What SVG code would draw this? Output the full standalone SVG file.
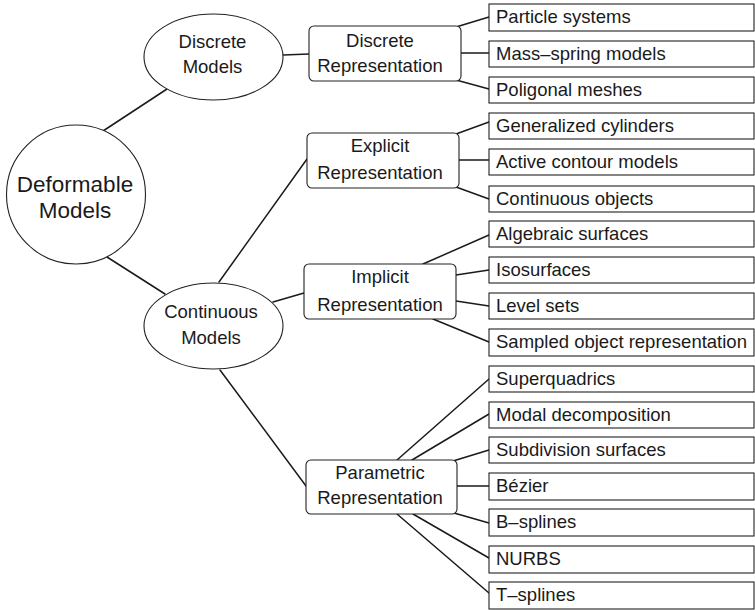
<svg xmlns="http://www.w3.org/2000/svg" width="755" height="610" viewBox="0 0 755 610">
<style>
.shape{fill:#fff;stroke:#222;stroke-width:1.1}
.conn line{stroke:#1a1a1a;stroke-width:1.5;fill:none;stroke-linecap:round}
text{font-family:"Liberation Sans","DejaVu Sans",sans-serif;font-size:18.5px;fill:#1a1a1a}
.c{text-anchor:middle}
.big{font-size:22.5px}
</style>
<rect width="755" height="610" fill="#fff"/>
<g id="connectors" class="conn">
<line x1="103" y1="131" x2="167" y2="89"/>
<line x1="107" y1="257" x2="165" y2="294"/>
<line x1="283" y1="55" x2="309" y2="54"/>
<line x1="219" y1="282" x2="307" y2="159"/>
<line x1="273" y1="302" x2="304" y2="293"/>
<line x1="220" y1="370" x2="306" y2="486"/>
<line x1="456" y1="27" x2="489" y2="17"/>
<line x1="461" y1="53" x2="489" y2="53"/>
<line x1="456" y1="80" x2="489" y2="89"/>
<line x1="456" y1="134" x2="489" y2="122"/>
<line x1="459" y1="160" x2="489" y2="160"/>
<line x1="456" y1="187" x2="489" y2="199"/>
<line x1="423" y1="264" x2="489" y2="235"/>
<line x1="456" y1="275" x2="489" y2="270"/>
<line x1="456" y1="301" x2="489" y2="306"/>
<line x1="433" y1="319" x2="489" y2="342"/>
<line x1="397" y1="460" x2="489" y2="379"/>
<line x1="412" y1="460" x2="489" y2="414"/>
<line x1="453" y1="461" x2="489" y2="450"/>
<line x1="457" y1="486" x2="489" y2="486"/>
<line x1="454" y1="513" x2="489" y2="523"/>
<line x1="413" y1="514" x2="489" y2="558"/>
<line x1="397" y1="514" x2="489" y2="593"/>
</g>
<g id="deformable"><circle class="shape" cx="76" cy="194.5" r="69.5"/><text class="c big" x="75" y="192">Deformable</text><text class="c big" x="75" y="218">Models</text></g>
<g id="discrete-models"><ellipse class="shape" cx="213.5" cy="57" rx="69.5" ry="43"/><text class="c" x="212.5" y="48">Discrete</text><text class="c" x="212.5" y="73">Models</text></g>
<g id="continuous-models"><ellipse class="shape" cx="213.5" cy="326" rx="69.5" ry="43"/><text class="c" x="211" y="318">Continuous</text><text class="c" x="211" y="344">Models</text></g>
<g id="discrete-rep"><rect class="shape" x="309" y="26" width="152" height="55" rx="5"/><text class="c" x="380" y="47">Discrete</text><text class="c" x="380" y="72">Representation</text></g>
<g id="explicit-rep"><rect class="shape" x="307" y="133" width="152" height="55" rx="5"/><text class="c" x="380" y="152">Explicit</text><text class="c" x="380" y="179">Representation</text></g>
<g id="implicit-rep"><rect class="shape" x="304" y="264" width="152" height="55" rx="5"/><text class="c" x="380" y="283">Implicit</text><text class="c" x="380" y="311">Representation</text></g>
<g id="parametric-rep"><rect class="shape" x="306" y="460" width="151" height="54" rx="5"/><text class="c" x="380" y="479">Parametric</text><text class="c" x="380" y="504">Representation</text></g>
<g id="leaf1"><rect class="shape" x="489" y="4" width="265" height="27"/><text x="496" y="23">Particle systems</text></g>
<g id="leaf2"><rect class="shape" x="489" y="41" width="265" height="26"/><text x="496" y="60">Mass–spring models</text></g>
<g id="leaf3"><rect class="shape" x="489" y="77" width="265" height="26"/><text x="496" y="96">Poligonal meshes</text></g>
<g id="leaf4"><rect class="shape" x="489" y="113" width="265" height="26"/><text x="496" y="132">Generalized cylinders</text></g>
<g id="leaf5"><rect class="shape" x="489" y="149" width="265" height="26"/><text x="496" y="168">Active contour models</text></g>
<g id="leaf6"><rect class="shape" x="489" y="186" width="265" height="26"/><text x="496" y="205">Continuous objects</text></g>
<g id="leaf7"><rect class="shape" x="489" y="221" width="265" height="26"/><text x="496" y="240">Algebraic surfaces</text></g>
<g id="leaf8"><rect class="shape" x="489" y="257" width="265" height="26"/><text x="496" y="276">Isosurfaces</text></g>
<g id="leaf9"><rect class="shape" x="489" y="293" width="265" height="26"/><text x="496" y="312">Level sets</text></g>
<g id="leaf10"><rect class="shape" x="489" y="329" width="265" height="27"/><text x="496" y="348">Sampled object representation</text></g>
<g id="leaf11"><rect class="shape" x="489" y="366" width="265" height="26"/><text x="496" y="385">Superquadrics</text></g>
<g id="leaf12"><rect class="shape" x="489" y="402" width="265" height="26"/><text x="496" y="421">Modal decomposition</text></g>
<g id="leaf13"><rect class="shape" x="489" y="437" width="265" height="26"/><text x="496" y="456">Subdivision surfaces</text></g>
<g id="leaf14"><rect class="shape" x="489" y="473" width="265" height="27"/><text x="496" y="492">Bézier</text></g>
<g id="leaf15"><rect class="shape" x="489" y="509" width="265" height="27"/><text x="496" y="528">B–splines</text></g>
<g id="leaf16"><rect class="shape" x="489" y="546" width="265" height="27"/><text x="496" y="565">NURBS</text></g>
<g id="leaf17"><rect class="shape" x="489" y="582" width="265" height="27"/><text x="496" y="601">T–splines</text></g>
</svg>
